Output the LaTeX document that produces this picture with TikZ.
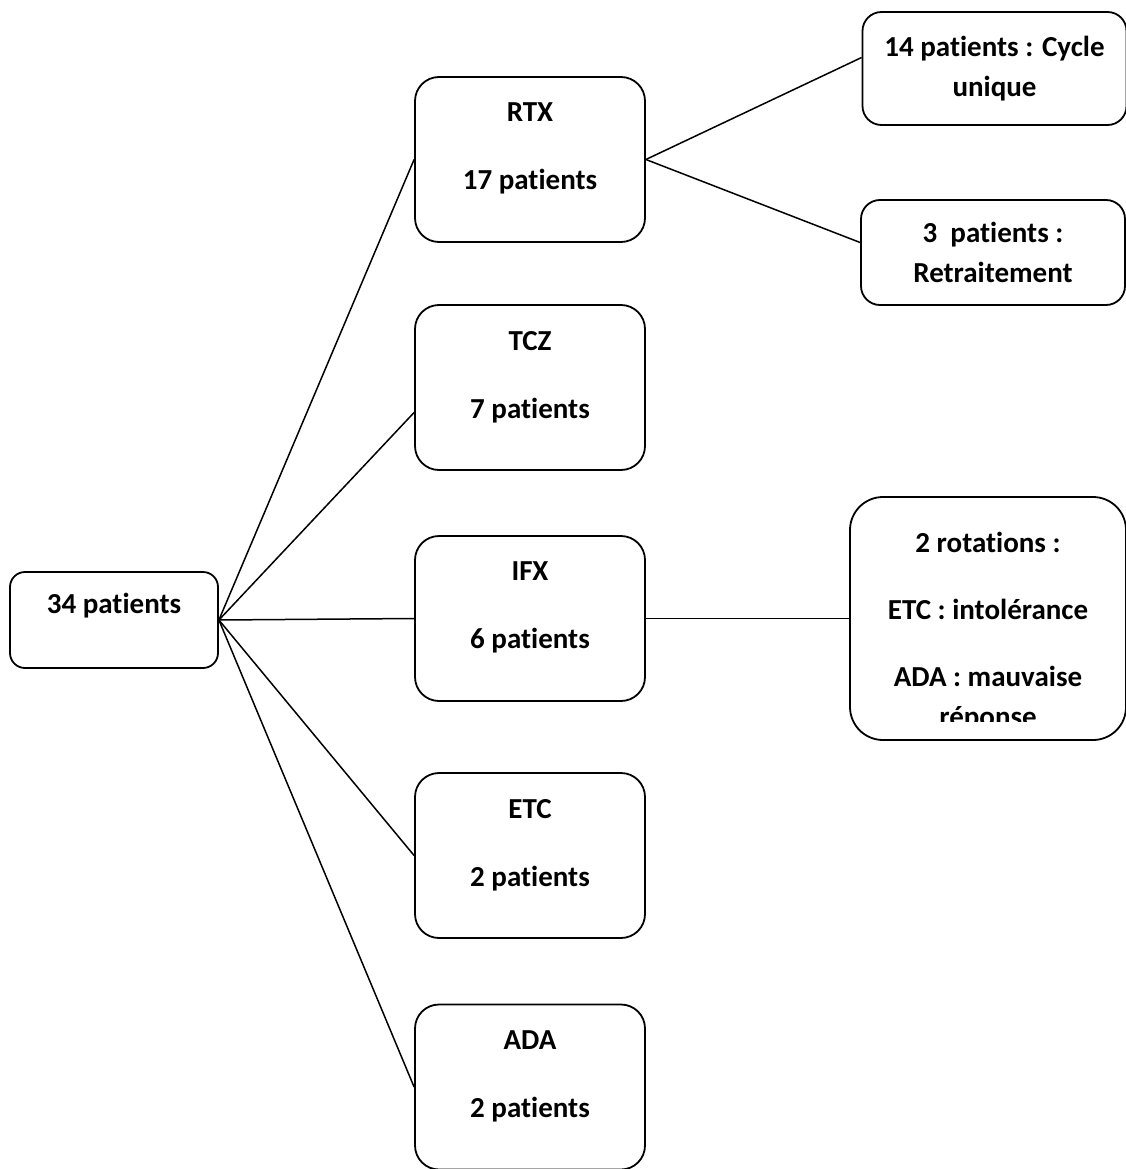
\documentclass[tikz,border=0pt]{standalone}
\usepackage{fontspec}
\setmainfont[Ligatures=NoCommon]{Carlito}
\usetikzlibrary{calc}

\tikzset{
  box/.style={draw, line width=1.8pt, rounded corners=#1, align=center, inner sep=0pt,
    font=\fontsize{29}{40}\selectfont\bfseries},
  box/.default=16pt,
  drug/.style={box=24pt, minimum width=230pt, minimum height=165pt, text depth=26pt},
  result/.style={box=19pt, minimum width=264pt, minimum height=110pt},
  link/.style={line width=1.5pt},
}

\begin{document}
\begin{tikzpicture}[x=1pt,y=-1pt]
\useasboundingbox (0,0) rectangle (1126,1169);

\node[box=15pt, minimum width=208pt, minimum height=96pt, text depth=34pt] (total) at (114,620) {34 patients};

\node[drug] (rtx) at (530,159.5) {RTX\\[28pt]17 patients};
\node[drug] (tcz) at (530,387.5) {TCZ\\[28pt]7 patients};
\node[drug] (ifx) at (530,618.5) {IFX\\[28pt]6 patients};
\node[drug] (etc) at (530,855.5) {ETC\\[28pt]2 patients};
\node[drug] (ada) at (530,1087) {ADA\\[28pt]2 patients};

\node[result, minimum height=113pt] (cycle) at (994.5,68.5) {14 patients : Cycle\\unique};
\node[result, minimum height=105pt] (retrait) at (993,252.5) {3~~patients :\\Retraitement};

\node[box=33pt, minimum width=276pt, minimum height=243pt] (rot) at (988,618.5) {};
\begin{scope}
\clip (rot.north west) rectangle ($(rot.south east)+(0,-19)$);
\node[anchor=north, align=center, inner sep=0pt, font=\fontsize{29}{40}\selectfont\bfseries]
  (rottext) at ($(rot.north)+(0,36)$)
  {2 rotations :\\[27pt]ETC : intolérance\\[27pt]ADA : mauvaise\\réponse};
\end{scope}

\draw[link] (total.east) -- (rtx.west);
\draw[link] (total.east) -- ($(tcz.west)+(0,25)$);
\draw[link] (total.east) -- (ifx.west);
\draw[link] (total.east) -- (etc.west);
\draw[link] (total.east) -- (ada.west);

\draw[link] (rtx.east) -- ($(cycle.west)+(0,-11)$);
\draw[link] (rtx.east) -- ($(retrait.west)+(0,-10)$);
\draw[link] (ifx.east) -- (rot.west);

\end{tikzpicture}
\end{document}
